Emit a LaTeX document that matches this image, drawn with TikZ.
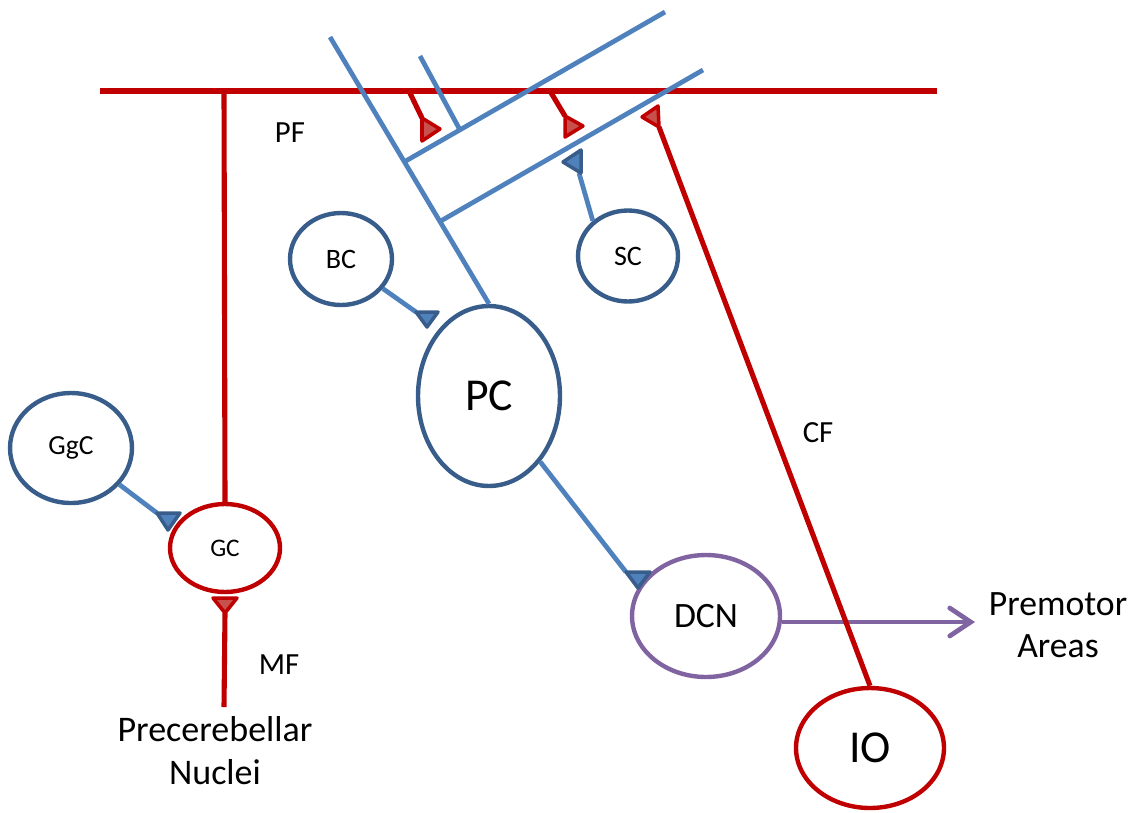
\documentclass[tikz,border=0pt]{standalone}
\usepackage{fontspec}
\setmainfont{Carlito}
\usetikzlibrary{shapes.geometric,arrows.meta}
\definecolor{axonred}{HTML}{C00000}
\definecolor{synred}{HTML}{C8504D}
\definecolor{dendblue}{HTML}{4F81BD}
\definecolor{cellblue}{HTML}{385D8A}
\definecolor{dcnpurple}{HTML}{8064A2}
\tikzset{
  cell/.style={ellipse, draw, line width=2.5pt, inner sep=0pt, fill=white},
  axon/.style={axonred, line width=2.9pt},
  dend/.style={dendblue, line width=2.7pt},
  redsyn/.style={draw=axonred, fill=synred, line width=2pt, line join=round},
  bluesyn/.style={draw=cellblue, fill=dendblue, line width=2pt, line join=round},
  lbl/.style={inner sep=0pt, align=center}
}
\begin{document}
\begin{tikzpicture}[x=0.02cm, y=-0.02cm]
  \useasboundingbox (0,0) rectangle (1135,812);

  % cells
  \node[cell, draw=cellblue, minimum width=2.44cm, minimum height=2.2cm, font=\fontsize{15.7}{19}\selectfont] (GgC) at (71,448) {GgC};
  \node[cell, draw=axonred, minimum width=2.2cm, minimum height=1.76cm, font=\fontsize{14.4}{17}\selectfont] (GC) at (225,548) {GC};
  \node[cell, draw=cellblue, minimum width=2.04cm, minimum height=1.84cm, font=\fontsize{16}{19}\selectfont] (BC) at (341,259) {BC};
  \node[cell, draw=cellblue, minimum width=2cm, minimum height=1.82cm, font=\fontsize{16}{19}\selectfont] (SC) at (628,256) {SC};
  \node[cell, draw=cellblue, minimum width=2.84cm, minimum height=3.6cm, font=\fontsize{26}{31}\selectfont] (PC) at (489,396) {PC};
  \node[cell, draw=dcnpurple, minimum width=2.96cm, minimum height=2.44cm, font=\fontsize{20.3}{24}\selectfont] (DCN) at (706,616) {DCN};
  \node[cell, draw=axonred, minimum width=2.96cm, minimum height=2.4cm, font=\fontsize{26}{31}\selectfont] (IO) at (870,748) {IO};

  % labels
  \node[lbl, font=\fontsize{17.5}{21}\selectfont] (PF) at (290,133) {PF};
  \node[lbl, font=\fontsize{17.5}{21}\selectfont] (MF) at (279,665) {MF};
  \node[lbl, font=\fontsize{17.5}{21}\selectfont] (CF) at (818,433) {CF};
  \node[lbl, font=\fontsize{20.5}{24.5}\selectfont] (PCN) at (215,751) {Precerebellar\\Nuclei};
  \node[lbl, font=\fontsize{20.3}{24}\selectfont] (PMA) at (1058,625) {Premotor\\Areas};

  % parallel fibre and granule cell axon
  \coordinate (pfleft) at (100,91);
  \coordinate (pfright) at (937,91);
  \coordinate (gctop) at (224,91);
  \draw[axon] (pfleft) -- (pfright);
  \draw[axon] (GC.north) -- (gctop);

  % purkinje dendrites
  \coordinate (trunk) at (330,37);
  \coordinate (fork1) at (404,162);
  \coordinate (fork2) at (439,222);
  \coordinate (tip1) at (665,12);
  \coordinate (tip2) at (703,70);
  \coordinate (twig) at (420,56);
  \coordinate (twigend) at (460,130);
  \draw[dend] (trunk) -- (PC.north);
  \draw[dend] (fork1) -- (tip1);
  \draw[dend] (fork2) -- (tip2);
  \draw[dend] (twig) -- (twigend);

  % parallel fibre synapses
  \coordinate (pfa) at (409,91);
  \coordinate (syna) at (422,118);
  \coordinate (pfb) at (550,91);
  \coordinate (synb) at (565,116);
  \draw[axon] (pfa) -- (syna);
  \draw[axon] (pfb) -- (synb);
  \filldraw[redsyn] (syna) -- (422,141) -- (440,129) -- cycle;
  \filldraw[redsyn] (synb) -- (565,137) -- (583,126) -- cycle;

  % stellate cell synapse
  \coordinate (sync) at (579,173);
  \draw[dend] (SC.135) -- (sync);
  \filldraw[bluesyn] (581,150) -- (581,173) -- (563,162) -- cycle;

  % basket cell synapse
  \coordinate (synd) at (416,312);
  \draw[dend] (BC) -- (synd);
  \filldraw[bluesyn] (synd) -- (438,312) -- (427,327) -- cycle;

  % golgi cell synapse
  \coordinate (syne) at (157,513);
  \draw[dend] (GgC) -- (syne);
  \filldraw[bluesyn] (syne) -- (180,513) -- (168,530) -- cycle;

  % purkinje to dcn
  \coordinate (synf) at (626,572);
  \draw[dend] (PC) -- (synf);
  \filldraw[bluesyn] (synf) -- (650,572) -- (638,588) -- cycle;

  % mossy fibre
  \coordinate (mfbot) at (224,707);
  \coordinate (syng) at (225,613);
  \draw[axon] (mfbot) -- (syng);
  \filldraw[redsyn] (213,598) -- (237,598) -- (syng) -- cycle;

  % output
  \coordinate (out) at (975,622);
  \draw[dcnpurple, line width=2.7pt, -{Straight Barb[length=0.42cm, width=0.56cm, line cap=round]}] (DCN.east |- out) -- (out);

  % climbing fibre
  \coordinate (synh) at (659,127);
  \draw[axon] (IO.north) -- (synh);
  \filldraw[redsyn] (658,106) -- (synh) -- (642,117) -- cycle;
\end{tikzpicture}
\end{document}
